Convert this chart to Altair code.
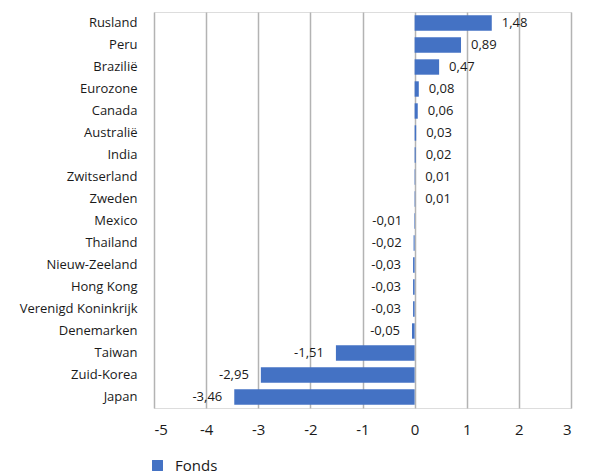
import altair as alt
import pandas as pd

landen = ["Rusland", "Peru", "Brazilië", "Eurozone", "Canada", "Australië", "India",
          "Zwitserland", "Zweden", "Mexico", "Thailand", "Nieuw-Zeeland", "Hong Kong",
          "Verenigd Koninkrijk", "Denemarken", "Taiwan", "Zuid-Korea", "Japan"]
waarden = [1.48, 0.89, 0.47, 0.08, 0.06, 0.03, 0.02, 0.01, 0.01, -0.01, -0.02, -0.03,
           -0.03, -0.03, -0.05, -1.51, -2.95, -3.46]
reeks = "Fonds"
x_ticks = [-5, -4, -3, -2, -1, 0, 1, 2, 3]

df = pd.DataFrame({"land": landen, "waarde": waarden, "reeks": [reeks] * len(landen)})
df["label"] = [f"{v:.2f}".replace(".", ",") for v in waarden]

FONT = "Open Sans"

base = alt.Chart(df).encode(
    y=alt.Y("land:N", sort=landen, title=None,
            scale=alt.Scale(paddingInner=0.3, paddingOuter=0.15),
            axis=alt.Axis(domain=False, ticks=False, grid=False, labelFontSize=13,
                          labelFont=FONT, labelColor="#1a1a1a", labelPadding=17)),
)

bars = base.mark_bar(color="#4472C4").encode(
    x=alt.X("waarde:Q", title=None,
            scale=alt.Scale(domain=[-5, 3], nice=False, zero=False),
            axis=alt.Axis(values=x_ticks, domain=False, ticks=False,
                          gridColor="#b3b3b3", gridWidth=1.5, labelFontSize=15,
                          labelFont=FONT, labelColor="#1a1a1a", labelPadding=14,
                          labelExpr="toString(datum.value)")),
    color=alt.Color("reeks:N", title=None,
                    scale=alt.Scale(range=["#4472C4"]),
                    legend=alt.Legend(orient="none", legendX=-4, legendY=446,
                                      symbolType="square", symbolSize=120,
                                      symbolStrokeWidth=0, labelFontSize=15,
                                      labelFont=FONT, labelColor="#1a1a1a",
                                      labelOffset=10)),
)

pos = base.transform_filter("datum.waarde >= 0").mark_text(
    align="left", baseline="middle", dx=10, fontSize=13, font=FONT, color="#1a1a1a"
).encode(x="waarde:Q", text="label:N")

neg = base.transform_filter("datum.waarde < 0").mark_text(
    align="right", baseline="middle", dx=-12, fontSize=13, font=FONT, color="#1a1a1a"
).encode(x="waarde:Q", text="label:N")

chart = (bars + pos + neg).properties(
    width=417, height=396,
    autosize=alt.AutoSizeParams(type="none"),
    padding={"left": 154, "top": 12, "right": 21, "bottom": 67},
).configure_view(stroke=None).configure(background="white")

chart.save("out.html", embed_options={"renderer": "svg", "actions": False})
